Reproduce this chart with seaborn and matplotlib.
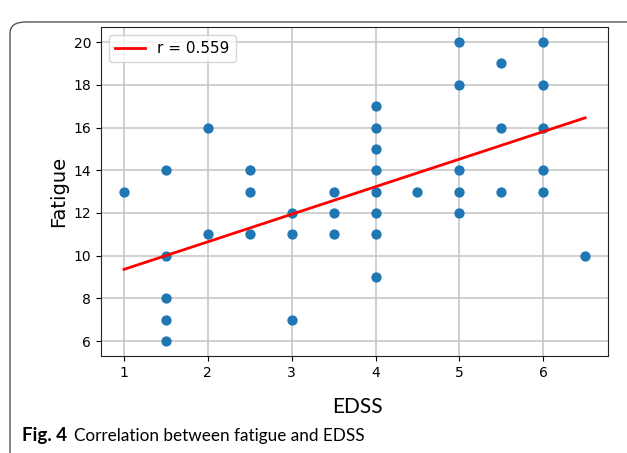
import numpy as np
import pandas as pd
import matplotlib
matplotlib.use("Agg")
import matplotlib.pyplot as plt
from matplotlib.patches import FancyBboxPatch
import seaborn as sns

# EDSS score and fatigue score per patient
edss = [1.0,
        1.5, 1.5, 1.5, 1.5, 1.5,
        2.0, 2.0,
        2.5, 2.5, 2.5,
        3.0, 3.0, 3.0,
        3.5, 3.5, 3.5,
        4.0, 4.0, 4.0, 4.0, 4.0, 4.0, 4.0, 4.0,
        4.5,
        5.0, 5.0, 5.0, 5.0, 5.0,
        5.5, 5.5, 5.5,
        6.0, 6.0, 6.0, 6.0, 6.0,
        6.5]
fatigue = [13,
           14, 10, 8, 7, 6,
           16, 11,
           14, 13, 11,
           12, 11, 7,
           13, 12, 11,
           17, 16, 15, 14, 13, 12, 11, 9,
           13,
           20, 18, 14, 13, 12,
           19, 16, 13,
           20, 18, 16, 14, 13,
           10]

# fitted line as shown in the figure
fit_slope = 1.29
fit_intercept = 8.07
r_value = 0.559

df = pd.DataFrame({"EDSS": edss, "Fatigue": fatigue})
x_line = np.array([df["EDSS"].min(), df["EDSS"].max()])
line_df = pd.DataFrame({"EDSS": x_line, "Fatigue": fit_intercept + fit_slope * x_line})

fig = plt.figure(figsize=(6.27, 4.53), dpi=100)
ax = fig.add_axes([0.161, 0.214, 0.809, 0.726])

sns.scatterplot(data=df, x="EDSS", y="Fatigue", ax=ax, color="#1f77b4",
                s=55, linewidth=0, zorder=3)
sns.lineplot(data=line_df, x="EDSS", y="Fatigue", ax=ax, color="red",
             linewidth=2, label=f"r = {r_value}", zorder=4)

ax.set_xticks([1, 2, 3, 4, 5, 6])
ax.set_yticks([6, 8, 10, 12, 14, 16, 18, 20])
ax.tick_params(labelsize=10)
ax.grid(True, color="#c8c8c8", linewidth=1.2)
ax.set_axisbelow(True)
for sp in ax.spines.values():
    sp.set_color("#222222")
ax.set_xlabel("")
ax.set_ylabel("Fatigue", fontsize=14)
ax.legend(loc="upper left", fontsize=11)

# x label and caption sit in the journal's text font
fig.text(357 / 627, 1 - 413 / 453, "EDSS", fontsize=15, family="Lato",
         ha="center", va="baseline")
fig.text(22 / 627, 1 - 441 / 453, "Fig. 4", fontsize=13.5, family="Lato",
         weight="bold", ha="left", va="baseline")
fig.text(74 / 627, 1 - 441 / 453, "Correlation between fatigue and EDSS",
         fontsize=12.3, family="Lato", ha="left", va="baseline")

# frame round the figure panel
frame = FancyBboxPatch((10 / 627, -20 / 453), 700 / 627, 451 / 453,
                       boxstyle="round,pad=0,rounding_size=0.025",
                       transform=fig.transFigure, fill=False,
                       edgecolor="#555555", linewidth=1)
fig.patches.append(frame)

fig.savefig("out.png", dpi=100)
